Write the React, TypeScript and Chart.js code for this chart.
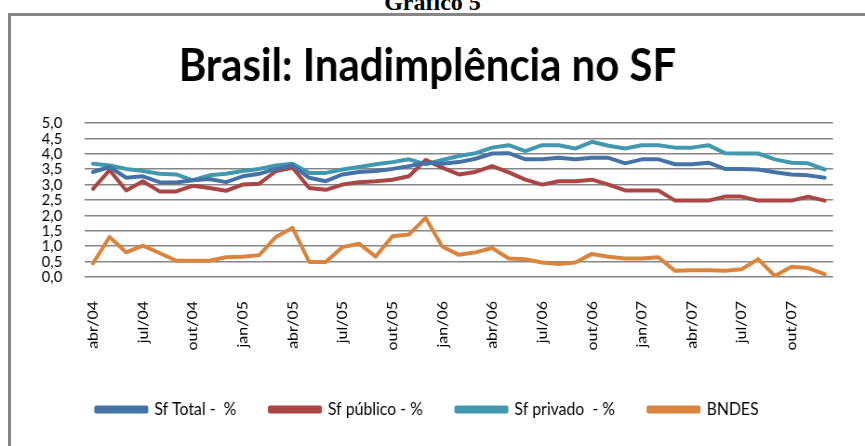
import { useEffect, useRef } from "react";
import { Chart, registerables } from "chart.js";

Chart.register(...registerables);

const categories: string[] = [
  "abr/04", "mai/04", "jun/04", "jul/04", "ago/04", "set/04", "out/04", "nov/04", "dez/04",
  "jan/05", "fev/05", "mar/05", "abr/05", "mai/05", "jun/05", "jul/05", "ago/05", "set/05",
  "out/05", "nov/05", "dez/05", "jan/06", "fev/06", "mar/06", "abr/06", "mai/06", "jun/06",
  "jul/06", "ago/06", "set/06", "out/06", "nov/06", "dez/06", "jan/07", "fev/07", "mar/07",
  "abr/07", "mai/07", "jun/07", "jul/07", "ago/07", "set/07", "out/07", "nov/07", "dez/07",
];

const sfTotal: number[] = [
  3.41, 3.57, 3.22, 3.27, 3.08, 3.07, 3.14, 3.18, 3.08, 3.27, 3.35, 3.51, 3.62, 3.22, 3.11,
  3.33, 3.41, 3.44, 3.51, 3.60, 3.71, 3.68, 3.73, 3.84, 4.01, 4.02, 3.82, 3.82, 3.87, 3.82,
  3.87, 3.87, 3.69, 3.82, 3.82, 3.66, 3.66, 3.71, 3.51, 3.51, 3.49, 3.40, 3.33, 3.30, 3.22,
];

const sfPublico: number[] = [
  2.86, 3.47, 2.81, 3.11, 2.78, 2.78, 2.96, 2.89, 2.80, 3.00, 3.03, 3.44, 3.55, 2.89, 2.83,
  3.00, 3.08, 3.11, 3.16, 3.27, 3.80, 3.55, 3.33, 3.41, 3.60, 3.40, 3.16, 3.00, 3.11, 3.11,
  3.16, 3.00, 2.81, 2.81, 2.81, 2.48, 2.48, 2.48, 2.61, 2.61, 2.48, 2.48, 2.48, 2.61, 2.48,
];

const sfPrivado: number[] = [
  3.68, 3.62, 3.51, 3.44, 3.35, 3.33, 3.14, 3.30, 3.35, 3.44, 3.51, 3.62, 3.68, 3.38, 3.38,
  3.49, 3.57, 3.66, 3.73, 3.82, 3.66, 3.80, 3.93, 4.02, 4.20, 4.28, 4.09, 4.28, 4.28, 4.17,
  4.39, 4.26, 4.17, 4.28, 4.28, 4.20, 4.20, 4.28, 4.02, 4.01, 4.01, 3.82, 3.71, 3.69, 3.49,
];

const bndes: number[] = [
  0.44, 1.30, 0.80, 1.02, 0.78, 0.53, 0.53, 0.53, 0.64, 0.66, 0.71, 1.30, 1.60, 0.49, 0.49,
  0.97, 1.08, 0.66, 1.32, 1.38, 1.92, 0.99, 0.72, 0.80, 0.94, 0.60, 0.58, 0.47, 0.42, 0.47,
  0.75, 0.66, 0.60, 0.60, 0.64, 0.20, 0.22, 0.22, 0.20, 0.25, 0.58, 0.03, 0.33, 0.29, 0.09,
];

const seriesNames = ["Sf Total -  %", "Sf público - %", "Sf privado  - %", "BNDES"];
const seriesColors = ["#4572A7", "#AA4643", "#4198AF", "#DB843D"];

const W = 865;
const H = 446;
const SQUASH = 0.93;
const CW = Math.round(W / SQUASH);

export default function App() {
  const ref = useRef<HTMLCanvasElement | null>(null);

  useEffect(() => {
    if (!ref.current) return;
    const values = [sfTotal, sfPublico, sfPrivado, bndes];
    const chart = new Chart(ref.current, {
      type: "line",
      data: {
        labels: categories,
        datasets: values.map((v, i) => ({
          label: seriesNames[i],
          data: v,
          borderColor: seriesColors[i],
          backgroundColor: seriesColors[i],
          borderWidth: 4,
          pointRadius: 0,
          tension: 0,
          borderCapStyle: "round" as const,
          borderJoinStyle: "round" as const,
        })),
      },
      options: {
        responsive: false,
        animation: false,
        devicePixelRatio: 1,
        layout: { padding: { left: 0, right: 11, top: 0, bottom: 18 } },
        plugins: {
          title: {
            display: true,
            text: "Brasil: Inadimplência no SF",
            color: "#000",
            font: { family: "Lato", size: 45, weight: "bold" },
            padding: { top: 39, bottom: 30 },
          },
          legend: {
            position: "bottom",
            labels: {
              color: "#000",
              font: { family: "Lato", size: 17 },
              boxWidth: 54,
              boxHeight: 4,
              padding: 36,
            },
          },
          tooltip: { enabled: false },
        },
        scales: {
          x: {
            offset: true,
            grid: { display: false, drawTicks: false },
            border: { display: false },
            ticks: {
              autoSkip: false,
              minRotation: 90,
              maxRotation: 90,
              padding: 24,
              color: "#000",
              font: { family: "Lato", size: 16 },
              callback: (_v: any, i: number) => (i % 3 === 0 ? categories[i] : ""),
            },
            afterFit: (s: any) => {
              s.height = 88;
            },
          },
          y: {
            min: 0,
            max: 5,
            ticks: {
              stepSize: 0.5,
              autoSkip: false,
              padding: 24,
              color: "#000",
              font: { family: "Lato", size: 16 },
              callback: (v: any) => Number(v).toFixed(1).replace(".", ","),
            },
            grid: { color: "#868686", lineWidth: 1.5, drawTicks: false },
            border: { display: false },
            afterFit: (s: any) => {
              s.width = 91;
            },
          },
        },
      },
    });
    return () => chart.destroy();
  }, []);

  return (
    <div
      style={{
        position: "fixed",
        left: 0,
        top: 0,
        width: W,
        height: H,
        overflow: "hidden",
        background: "#fff",
      }}
    >
      <div
        style={{
          position: "absolute",
          left: 0,
          top: -10,
          width: W,
          textAlign: "center",
          fontFamily: "'Liberation Serif', 'Times New Roman', serif",
          fontWeight: "bold",
          fontSize: 24,
          lineHeight: 1,
          color: "#000",
        }}
      >
        Gráfico 5
      </div>
      <div
        style={{
          position: "absolute",
          left: 8,
          top: 13,
          width: 900,
          height: 500,
          borderTop: "3px solid #858585",
          borderLeft: "3px solid #858585",
          boxSizing: "border-box",
        }}
      />
      <canvas
        ref={ref}
        width={CW}
        height={H}
        style={{ position: "absolute", left: 0, top: 0, width: W + "px", height: H + "px" }}
      />
    </div>
  );
}
